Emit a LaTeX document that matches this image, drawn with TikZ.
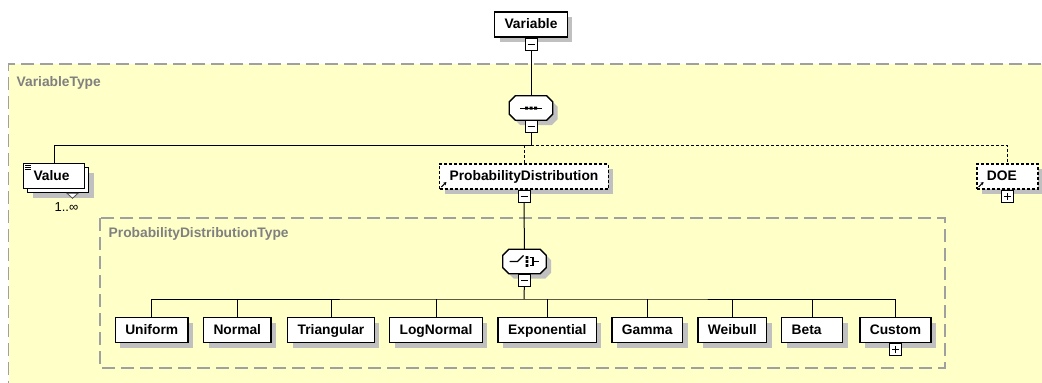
\documentclass[tikz,border=0pt]{standalone}
\usepackage{amsmath}
\usepackage{fontspec}
\setmainfont{Liberation Sans}
\usetikzlibrary{positioning,shadows,arrows.meta}
\definecolor{typefill}{RGB}{255,255,200}
\definecolor{typeline}{RGB}{160,160,160}
\definecolor{typetext}{RGB}{128,128,128}
\definecolor{shade}{RGB}{192,192,192}
\newcommand{\elemfont}{\fontsize{13.8}{16}\selectfont\bfseries}
\newcommand{\octframe}[1]{\path[draw, fill=white, line width=1.3pt, drop shadow={shadow xshift=5pt, shadow yshift=-5pt, fill=shade, opacity=1}] ([xshift=6pt]#1.north west) -- ([xshift=-6pt]#1.north east) -- ([yshift=-6pt]#1.north east) -- ([yshift=6pt]#1.south east) -- ([xshift=-6pt]#1.south east) -- ([xshift=6pt]#1.south west) -- ([yshift=6pt]#1.south west) -- ([yshift=-6pt]#1.north west) -- cycle;}
\tikzset{
	box/.style={draw, fill=white, line width=1.5pt, font=\elemfont, minimum height=25pt, inner xsep=10pt, inner ysep=0pt, text height=11.5pt, text depth=3pt},
	elem/.style={box, drop shadow={shadow xshift=5pt, shadow yshift=-5pt, fill=shade, opacity=1}},
	narrowelem/.style={elem, text width=41pt, align=left},
	refelem/.style={narrowelem, dash pattern=on 3pt off 2pt},
	multielem/.style={box, text width=41pt, align=left, general shadow={shadow xshift=9pt, shadow yshift=-9pt, fill=shade}, copy shadow={shadow xshift=4pt, shadow yshift=-4pt, draw=black, fill=white, line width=1.5pt}},
	togglebox/.style={draw, fill=white, line width=1pt, minimum size=12pt, inner sep=0pt},
	minusbox/.style={togglebox, path picture={\draw[line width=1pt] ([xshift=2.5pt]path picture bounding box.west) -- ([xshift=-2.5pt]path picture bounding box.east);}},
	plusbox/.style={togglebox, path picture={\draw[line width=1pt] ([xshift=2.5pt]path picture bounding box.west) -- ([xshift=-2.5pt]path picture bounding box.east) ([yshift=2.5pt]path picture bounding box.south) -- ([yshift=-2.5pt]path picture bounding box.north);}},
	compositor/.style={minimum width=43pt, minimum height=24pt, inner sep=0pt},
	conn/.style={line width=1pt},
	optconn/.style={line width=1pt, dash pattern=on 3pt off 2pt},
	regionbox/.style={draw=typeline, line width=1.3pt, dash pattern=on 13pt off 6pt},
	typelabel/.style={text=typetext, font=\elemfont, inner sep=0pt, anchor=base west}
}
\begin{document}
\begin{tikzpicture}[x=1pt, y=-1pt]
		\useasboundingbox (0,0) rectangle (1042,383);
		\clip (0,0) rectangle (1042,383);
		\fill[typefill] (8.5,64) rectangle (1060,400);
		\draw[regionbox] (1060,64) -- (8.5,64) -- (8.5,400);
		\draw[regionbox] (100,218) rectangle (945,368);
		\node[typelabel] (vartype) at (16.5,86.5) {VariableType};
		\node[typelabel] (pdtype) at (108.5,237.5) {ProbabilityDistributionType};
		\node[elem] (variable) at (531,24.5) {Variable};
		\node[minusbox, below=0pt of variable] (varm) {};
		\node[compositor] (seq) at (531,108) {};
		\octframe{seq}
		\node[minusbox, below=0pt of seq] (seqm) {};
		\node[multielem] (value) at (54,176) {Value};
		\node[font=\fontsize{13}{15}\selectfont, inner sep=0pt] (valueocc) at (66.5,207.5) {1..∞};
		\node[elem, dash pattern=on 3pt off 2pt] (pd) at (524,176.3) {ProbabilityDistribution};
		\node[minusbox, below=0pt of pd] (pdm) {};
		\node[refelem] (doe) at (1007.3,176.3) {DOE};
		\node[plusbox, below=0pt of doe] (doep) {};
		\node[compositor] (choice) at (524.5,261.5) {};
		\octframe{choice}
		\node[minusbox, below=0pt of choice] (chm) {};
		\node[elem] (uniform) at (151.7,330) {Uniform};
		\node[elem] (normal) at (237.3,330) {Normal};
		\node[elem] (triangular) at (331,330) {Triangular};
		\node[elem] (lognormal) at (436,330) {LogNormal};
		\node[elem] (exponential) at (547.3,330) {Exponential};
		\node[elem] (gamma) at (647.3,330) {Gamma};
		\node[elem] (weibull) at (732.3,330) {Weibull};
		\node[narrowelem] (beta) at (812.2,330) {Beta};
		\node[elem] (custom) at (895.5,330) {Custom};
		\node[plusbox, below=0pt of custom] (customp) {};
		\coordinate (seqbus) at (531,145);
		\coordinate (optbus) at (524,145);
		\coordinate (rail) at (524,299);
		\draw[conn] (varm) -- (seq);
		\draw[conn] (seqm) -- (seqbus) -| (value);
		\draw[optconn] (pd) -- (optbus) -| (doe);
		\draw[conn] (pdm) -- (choice);
		\draw[conn] (chm) -- (rail);
		\draw[conn] (uniform) |- (rail) -| (custom);
		\draw[conn] (normal) -- (normal |- rail);
		\draw[conn] (triangular) -- (triangular |- rail);
		\draw[conn] (lognormal) -- (lognormal |- rail);
		\draw[conn] (exponential) -- (exponential |- rail);
		\draw[conn] (gamma) -- (gamma |- rail);
		\draw[conn] (weibull) -- (weibull |- rail);
		\draw[conn] (beta) -- (beta |- rail);
		\draw[line width=0.6pt] ([xshift=2.5pt,yshift=-3pt]value.north west) -- ++(6,0) ++(-6,2) -- ++(6,0) ++(-6,2) -- ++(6,0);
		\draw[line width=0.8pt, draw=black!70, fill=white] ([xshift=13pt,yshift=-4pt]value.south) -- ++(11,0) -- ++(-5.5,5) -- cycle;
		\draw[-{Stealth[length=3pt,width=3.5pt]}, line width=1pt] ([xshift=2.5pt,yshift=2.5pt]pd.south west) -- ++(5,-5);
		\draw[-{Stealth[length=3pt,width=3.5pt]}, line width=1pt] ([xshift=2.5pt,yshift=2.5pt]doe.south west) -- ++(5,-5);
		\draw[line width=1pt] ([xshift=-11pt]seq.center) -- ([xshift=11pt]seq.center);
		\fill ([shift={(-6pt,-1.5pt)}]seq.center) rectangle ++(3pt,3pt) ([shift={(-1.5pt,-1.5pt)}]seq.center) rectangle ++(3pt,3pt) ([shift={(3pt,-1.5pt)}]seq.center) rectangle ++(3pt,3pt);
		\draw[line width=1.2pt] ([xshift=-15pt]choice.center) -- ([xshift=-7pt]choice.center) -- ([shift={(-1pt,6pt)}]choice.center);
		\fill ([shift={(1pt,2.5pt)}]choice.center) rectangle ++(2.8pt,2.8pt) ([shift={(1pt,-1.4pt)}]choice.center) rectangle ++(2.8pt,2.8pt) ([shift={(1pt,-5.3pt)}]choice.center) rectangle ++(2.8pt,2.8pt);
		\draw[line width=1.2pt] ([shift={(5pt,4pt)}]choice.center) -- ([shift={(8.5pt,4pt)}]choice.center) -- ([shift={(8.5pt,-4pt)}]choice.center) -- ([shift={(5pt,-4pt)}]choice.center) ([xshift=8.5pt]choice.center) -- ([xshift=14pt]choice.center);
\end{tikzpicture}
\end{document}
